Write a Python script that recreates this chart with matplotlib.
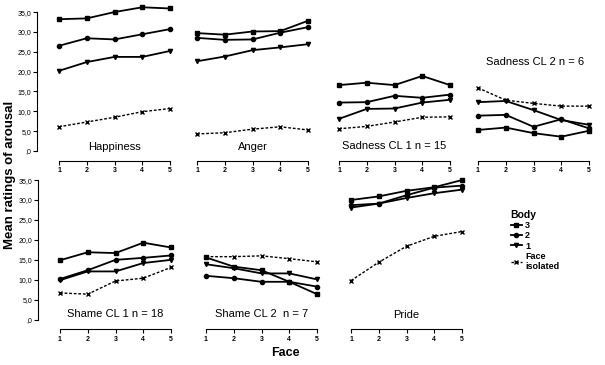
import matplotlib
matplotlib.use("Agg")
import matplotlib.pyplot as plt
from matplotlib.lines import Line2D

plt.rcParams['font.family'] = ['Liberation Sans', 'DejaVu Sans']

# faces 1..5 on every panel
face = [1, 2, 3, 4, 5]

panels = ["Happiness", "Anger", "Sadness CL 1 n = 15", "Sadness CL 2 n = 6",
          "Shame CL 1 n = 18", "Shame CL 2  n = 7", "Pride"]

# body 3 (square), body 2 (circle), body 1 (triangle), face isolated (x)
body3 = [[33.2, 33.4, 35.0, 36.2, 35.9],
         [29.7, 29.3, 30.1, 30.2, 32.8],
         [16.6, 17.2, 16.6, 18.9, 16.6],
         [5.3, 5.9, 4.5, 3.6, 5.1],
         [14.9, 16.9, 16.7, 19.3, 18.1],
         [15.6, 13.3, 12.4, 9.5, 6.4],
         [30.0, 30.9, 32.3, 33.2, 35.0]]
body2 = [[26.5, 28.4, 28.1, 29.4, 30.7],
         [28.5, 28.0, 28.1, 29.8, 31.2],
         [12.2, 12.3, 13.9, 13.4, 14.2],
         [8.9, 9.1, 6.1, 8.0, 5.7],
         [10.2, 12.4, 15.0, 15.5, 16.1],
         [11.0, 10.4, 9.5, 9.5, 8.3],
         [28.7, 29.1, 31.2, 33.1, 33.6]]
body1 = [[20.2, 22.4, 23.7, 23.7, 25.2],
         [22.6, 23.8, 25.4, 26.1, 26.9],
         [8.1, 10.6, 10.7, 12.2, 12.9],
         [12.3, 12.6, 10.3, 7.8, 6.6],
         [9.9, 12.1, 12.1, 14.2, 15.0],
         [13.9, 12.9, 11.6, 11.6, 10.1],
         [28.1, 29.1, 30.5, 31.7, 32.6]]
face_iso = [[6.1, 7.3, 8.5, 9.9, 10.7],
            [4.3, 4.6, 5.5, 6.1, 5.3],
            [5.6, 6.2, 7.3, 8.5, 8.6],
            [15.9, 12.8, 12.0, 11.3, 11.3],
            [6.7, 6.4, 9.7, 10.4, 13.1],
            [15.8, 15.8, 16.0, 15.3, 14.5],
            [9.8, 14.4, 18.4, 20.9, 22.1]]

ytick_vals = [0, 5, 10, 15, 20, 25, 30, 35]
ytick_labels = [",0", "5,0", "10,0", "15,0", "20,0", "25,0", "30,0", "35,0"]

# title position (x, y) in data units for each panel
title_pos = [(3, 1), (3, 1), (3, 1.2), (3.05, 22.4), (3, 1.4), (3, 1.4), (3, 1.2)]

W, H = 605, 365
fig = plt.figure(figsize=(W / 100, H / 100), dpi=100)

# pixel x of "face 1" per panel, pixel y of value 0 per row
x1_px = [59, 197, 339, 478, 60, 206, 351]
row_of = [0, 0, 0, 0, 1, 1, 1]
y0_px = [151, 319.7]
px_per_unit_y = [3.97, 3.99]
px_per_unit_x = 27.75
ymax = 37

for i, name in enumerate(panels):
    r = row_of[i]
    left = (x1_px[i] - 0.5 * px_per_unit_x) / W
    width = 5 * px_per_unit_x / W
    bottom = (H - y0_px[r]) / H
    height = ymax * px_per_unit_y[r] / H
    ax = fig.add_axes([left, bottom, width, height])
    ax.set_xlim(0.5, 5.5)
    ax.set_ylim(0, ymax)

    kw = dict(color='black', lw=1.3, ms=3.0, clip_on=False)
    ax.plot(face, face_iso[i], marker='x', ls=(0, (2, 1.3)), lw=1.0,
            color='black', ms=3.2, mew=1.0, clip_on=False)
    ax.plot(face, body1[i], marker='v', **kw)
    ax.plot(face, body2[i], marker='o', **kw)
    ax.plot(face, body3[i], marker='s', **kw)

    tx, ty = title_pos[i]
    ax.text(tx, ty, name, ha='center', va='center', fontsize=8)

    for s in ['top', 'right']:
        ax.spines[s].set_visible(False)
    ax.spines['bottom'].set_position(('outward', 7))
    ax.spines['bottom'].set_bounds(1, 5)
    ax.spines['bottom'].set_linewidth(0.8)
    ax.set_xticks(face)
    ax.set_xticklabels([str(f) for f in face], fontsize=5, fontweight='bold')
    ax.tick_params(axis='x', length=3, width=0.8, pad=1.5)

    if i in (0, 4):
        ax.spines['left'].set_position(('outward', 6))
        ax.spines['left'].set_bounds(0, 35)
        ax.spines['left'].set_linewidth(0.8)
        ax.set_yticks(ytick_vals)
        ax.set_yticklabels(ytick_labels, fontsize=5)
        ax.tick_params(axis='y', length=3, width=0.8, pad=1)
    else:
        ax.spines['left'].set_visible(False)
        ax.set_yticks([])

fig.text(10 / W, 1 - 175 / H, "Mean ratings of arousal", rotation=90,
         ha='center', va='center', fontsize=9.5, fontweight='bold')
fig.text(285 / W, 1 - 353 / H, "Face", ha='center', va='center',
         fontsize=9, fontweight='bold')

handles = [
    Line2D([], [], color='black', lw=1.3, marker='s', ms=3.0),
    Line2D([], [], color='black', lw=1.3, marker='o', ms=3.0),
    Line2D([], [], color='black', lw=1.3, marker='v', ms=3.0),
    Line2D([], [], color='black', lw=1.0, ls=(0, (2, 1.3)), marker='x', ms=3.2),
]
leg = fig.legend(handles, ["3", "2", "1", "Face\nisolated"], title="Body",
                 loc='upper left', bbox_to_anchor=(506 / W, 1 - 205 / H),
                 frameon=False, handlelength=1.3, handletextpad=0.3,
                 labelspacing=0.15, borderpad=0, alignment='left',
                 prop={'size': 6.5, 'weight': 'bold'},
                 title_fontproperties={'size': 7.5, 'weight': 'bold'})

fig.savefig("out.png", dpi=100)
